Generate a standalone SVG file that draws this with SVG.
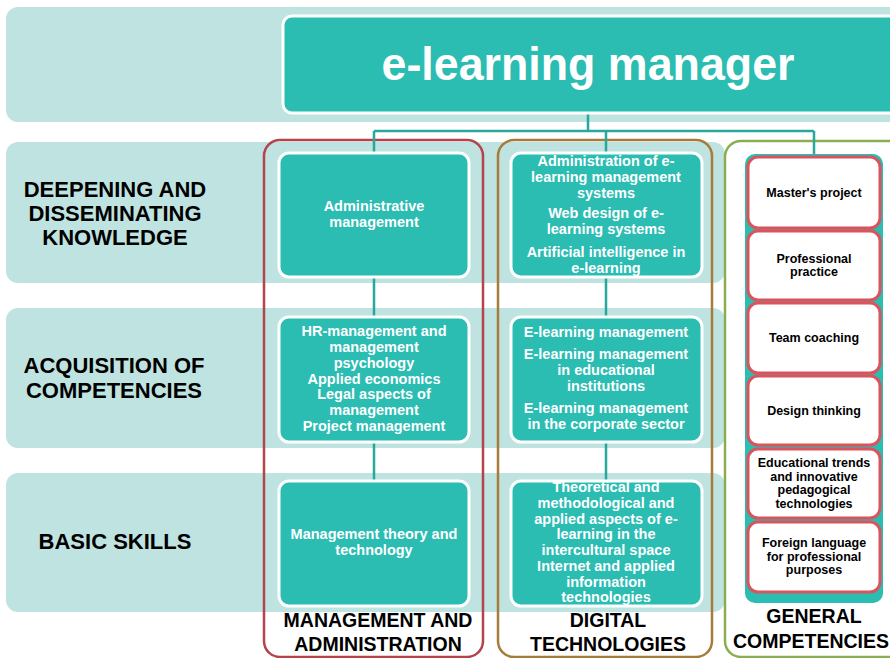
<svg xmlns="http://www.w3.org/2000/svg" width="890" height="658" viewBox="0 0 890 658">
<style>
.band{fill:#bfe3e0}
.tbox{fill:#2bbcb2;stroke:#fff;stroke-width:3}
.wt{font-family:"Liberation Sans",Arial,sans-serif;font-weight:bold;font-size:14.5px;fill:#fff;text-anchor:middle}
.rl{font-family:"Liberation Sans",Arial,sans-serif;font-weight:bold;font-size:22px;fill:#000;text-anchor:middle}
.cl{font-family:"Liberation Sans",Arial,sans-serif;font-weight:bold;font-size:19.5px;fill:#000;text-anchor:middle}
.gbox{fill:#fff;stroke:#d9545c;stroke-width:3}
.bt{font-family:"Liberation Sans",Arial,sans-serif;font-weight:bold;font-size:12.5px;fill:#000;text-anchor:middle}
.con{stroke:#26a89c;stroke-width:2.5;fill:none}
.outl{fill:none;stroke-width:2.5}
</style>
<g id="bands">
<rect class="band" x="6" y="7" width="900" height="115" rx="12"/>
<rect class="band" x="6" y="142" width="719" height="141" rx="12"/>
<rect class="band" x="6" y="308" width="719" height="140" rx="12"/>
<rect class="band" x="6" y="473" width="719" height="139" rx="12"/>
</g>
<g id="row-labels">
<text class="rl" x="115" y="197">DEEPENING AND</text>
<text class="rl" x="115" y="221">DISSEMINATING</text>
<text class="rl" x="115" y="245">KNOWLEDGE</text>
<text class="rl" x="114" y="373">ACQUISITION OF</text>
<text class="rl" x="114" y="398">COMPETENCIES</text>
<text class="rl" x="115" y="549">BASIC SKILLS</text>
</g>
<g id="col-outlines">
<rect class="outl" x="264" y="140" width="219" height="517" rx="16" stroke="#b5434b"/>
<rect class="outl" x="498" y="140" width="214" height="517" rx="16" stroke="#a77b3a"/>
<rect class="outl" x="725" y="141" width="190" height="516" rx="16" stroke="#8aae4f"/>
</g>
<g id="connectors">
<path class="con" d="M588 113V131M374 131H814M374 131V153M606 131V153M814 131V155"/>
<path class="con" d="M374 277V317M374 442V481M606 277V317M606 442V481"/>
</g>
<g id="title">
<rect class="tbox" x="283" y="16" width="620" height="97" rx="9"/>
<text x="588" y="80" font-family="'Liberation Sans Narrow','Liberation Sans',Arial,sans-serif" font-weight="bold" font-size="47" fill="#fff" text-anchor="middle" textLength="413" lengthAdjust="spacingAndGlyphs">e-learning manager</text>
</g>
<g id="admin-mgmt">
<rect class="tbox" x="279" y="153" width="190" height="124" rx="10"/>
<text class="wt" x="374" y="211">Administrative</text>
<text class="wt" x="374" y="227">management</text>
</g>
<g id="digital-1">
<rect class="tbox" x="511" y="153" width="191" height="124" rx="10"/>
<text class="wt" x="606" y="166">Administration of e-</text>
<text class="wt" x="606" y="182">learning management</text>
<text class="wt" x="606" y="198">systems</text>
<text class="wt" x="606" y="218">Web design of e-</text>
<text class="wt" x="606" y="234">learning systems</text>
<text class="wt" x="606" y="257">Artificial intelligence in</text>
<text class="wt" x="606" y="273">e-learning</text>
</g>
<g id="mgmt-2">
<rect class="tbox" x="279" y="317" width="190" height="125" rx="10"/>
<text class="wt" x="374" y="336">HR-management and</text>
<text class="wt" x="374" y="352">management</text>
<text class="wt" x="374" y="368">psychology</text>
<text class="wt" x="374" y="383.5">Applied economics</text>
<text class="wt" x="374" y="399">Legal aspects of</text>
<text class="wt" x="374" y="415">management</text>
<text class="wt" x="374" y="431">Project management</text>
</g>
<g id="digital-2">
<rect class="tbox" x="511" y="317" width="191" height="125" rx="10"/>
<text class="wt" x="606" y="337">E-learning management</text>
<text class="wt" x="606" y="359">E-learning management</text>
<text class="wt" x="606" y="375">in educational</text>
<text class="wt" x="606" y="391">institutions</text>
<text class="wt" x="606" y="413">E-learning management</text>
<text class="wt" x="606" y="429">in the corporate sector</text>
</g>
<g id="mgmt-3">
<rect class="tbox" x="279" y="481" width="190" height="125" rx="10"/>
<text class="wt" x="374" y="539">Management theory and</text>
<text class="wt" x="374" y="555">technology</text>
</g>
<g id="digital-3">
<rect class="tbox" x="511" y="481" width="191" height="125" rx="10"/>
<text class="wt" x="606" y="492">Theoretical and</text>
<text class="wt" x="606" y="508">methodological and</text>
<text class="wt" x="606" y="524">applied aspects of e-</text>
<text class="wt" x="606" y="539">learning in the</text>
<text class="wt" x="606" y="555">intercultural space</text>
<text class="wt" x="606" y="571">Internet and applied</text>
<text class="wt" x="606" y="587">information</text>
<text class="wt" x="606" y="602">technologies</text>
</g>
<g id="general-panel">
<rect x="745" y="154" width="138" height="449" rx="10" fill="#2bbcb2"/>
</g>
<g id="masters-project">
<rect class="gbox" x="748" y="157" width="132" height="71" rx="10"/>
<text class="bt" x="814" y="197">Master's project</text>
</g>
<g id="professional-practice">
<rect class="gbox" x="748" y="231" width="132" height="69" rx="10"/>
<text class="bt" x="814" y="263">Professional</text>
<text class="bt" x="814" y="276">practice</text>
</g>
<g id="team-coaching">
<rect class="gbox" x="748" y="303" width="132" height="70" rx="10"/>
<text class="bt" x="814" y="342">Team coaching</text>
</g>
<g id="design-thinking">
<rect class="gbox" x="748" y="376" width="132" height="69" rx="10"/>
<text class="bt" x="814" y="415">Design thinking</text>
</g>
<g id="educational-trends">
<rect class="gbox" x="748" y="449" width="132" height="69" rx="10"/>
<text class="bt" x="814" y="467">Educational trends</text>
<text class="bt" x="814" y="480.5">and innovative</text>
<text class="bt" x="814" y="494">pedagogical</text>
<text class="bt" x="814" y="507.5">technologies</text>
</g>
<g id="foreign-language">
<rect class="gbox" x="748" y="522" width="132" height="70" rx="10"/>
<text class="bt" x="814" y="547">Foreign language</text>
<text class="bt" x="814" y="560.5">for professional</text>
<text class="bt" x="814" y="574">purposes</text>
</g>
<g id="col-labels">
<text class="cl" x="378" y="627">MANAGEMENT AND</text>
<text class="cl" x="378" y="651">ADMINISTRATION</text>
<text class="cl" x="608" y="627">DIGITAL</text>
<text class="cl" x="608" y="651">TECHNOLOGIES</text>
<text class="cl" x="814" y="623">GENERAL</text>
<text class="cl" x="811" y="648" font-size="19">COMPETENCIES</text>
</g>
</svg>
